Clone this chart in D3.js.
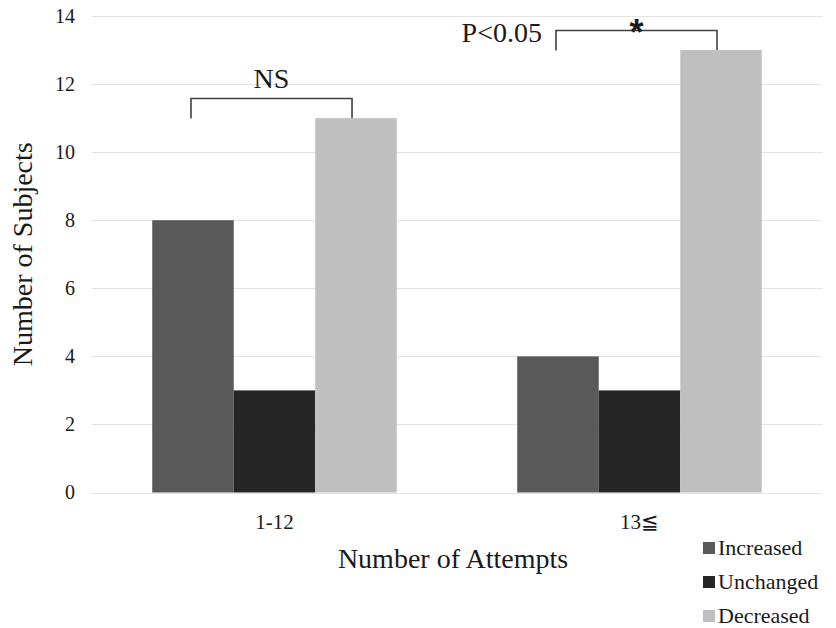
<!DOCTYPE html>
<html>
<head>
<meta charset="utf-8">
<script src="https://cdn.jsdelivr.net/npm/d3@7"></script>
<style>
  body { margin: 0; background: #fff; }
</style>
</head>
<body>
<svg id="chart" width="836" height="628"></svg>
<script>
const groups = ['1-12', '13≦'];
const series = ['Increased', 'Unchanged', 'Decreased'];
const colors = ['#595959', '#262626', '#bfbfbf'];
const increased = [8, 4];
const unchanged = [3, 3];
const decreased = [11, 13];
const yTicks = [0, 2, 4, 6, 8, 10, 12, 14];
const marks = ['NS', 'P<0.05'];

const values = [increased, unchanged, decreased];
const serif = 'Liberation Serif';
const svg = d3.select('#chart');

function label(sel, size) {
  return sel.attr('font-family', serif).attr('font-size', size).attr('fill', '#1a1a1a');
}

const x0 = d3.scaleBand().domain(groups).range([92, 822]).paddingInner(0.33).paddingOuter(0.165);
const x1 = d3.scaleBand().domain(series).range([0, x0.bandwidth()]);
const y = d3.scaleLinear().domain([0, 14]).range([492.5, 16]);

// grid
svg.append('g').selectAll('line').data(yTicks).join('line')
  .attr('x1', 92).attr('x2', 822)
  .attr('y1', d => Math.round(y(d)) + 0.5).attr('y2', d => Math.round(y(d)) + 0.5)
  .attr('stroke', '#e3e3e3').attr('stroke-width', 1);

// y tick labels
label(svg.append('g').selectAll('text').data(yTicks).join('text'), 20)
  .attr('x', 75).attr('y', d => y(d)).attr('dy', '0.34em')
  .attr('text-anchor', 'end')
  .text(d => d);

// bars
groups.forEach((g, gi) => {
  svg.append('g').selectAll('rect').data(series).join('rect')
    .attr('x', s => x0(g) + x1(s))
    .attr('y', (s, si) => y(values[si][gi]))
    .attr('width', x1.bandwidth())
    .attr('height', (s, si) => y(0) - y(values[si][gi]))
    .attr('fill', (s, si) => colors[si]);
});

// x tick labels
label(svg.append('g').selectAll('text').data(groups).join('text'), 21)
  .attr('x', d => x0(d) + x0.bandwidth() / 2).attr('y', 529)
  .attr('text-anchor', 'middle')
  .text(d => d);

// axis titles
label(svg.append('text'), 28)
  .attr('transform', 'translate(32,' + (y(7)) + ') rotate(-90)')
  .attr('text-anchor', 'middle')
  .text('Number of Subjects');
label(svg.append('text'), 28)
  .attr('x', 453).attr('y', 568)
  .attr('text-anchor', 'middle')
  .text('Number of Attempts');

// significance brackets
groups.forEach((g, gi) => {
  const xl = x0(g) + x1('Increased') + x1.bandwidth() / 2 - 2;
  const xr = x0(g) + x1('Decreased') + x1.bandwidth() / 2 - 4;
  const top = decreased[gi] + 0.58;
  const yt = Math.round(y(top)) + 0.5;
  svg.append('path')
    .attr('d', 'M' + xl + ',' + (yt + 20) + 'V' + yt + 'H' + xr + 'V' + y(decreased[gi]))
    .attr('fill', 'none').attr('stroke', '#404040').attr('stroke-width', 1.6);
  if (gi === 0) {
    label(svg.append('text'), 28).attr('x', (xl + xr) / 2).attr('y', yt - 11)
      .attr('text-anchor', 'middle').text(marks[0]);
  } else {
    label(svg.append('text'), 28).attr('x', xl - 14).attr('y', yt + 11)
      .attr('text-anchor', 'end').text(marks[1]);
    svg.append('text').attr('x', (xl + xr) / 2).attr('y', yt + 14)
      .attr('text-anchor', 'middle').attr('font-size', 36).attr('font-weight', 'bold')
      .attr('font-family', 'Liberation Sans').attr('fill', '#1a1a1a')
      .text('*');
  }
});

// legend
const legend = svg.append('g').selectAll('g').data(series).join('g')
  .attr('transform', (d, i) => 'translate(703,' + (548 + i * 34) + ')');
legend.append('rect').attr('x', 0).attr('y', -6).attr('width', 12).attr('height', 12)
  .attr('fill', (d, i) => colors[i]);
label(legend.append('text'), 22).attr('x', 15).attr('y', 7).text(d => d);
</script>
</body>
</html>
